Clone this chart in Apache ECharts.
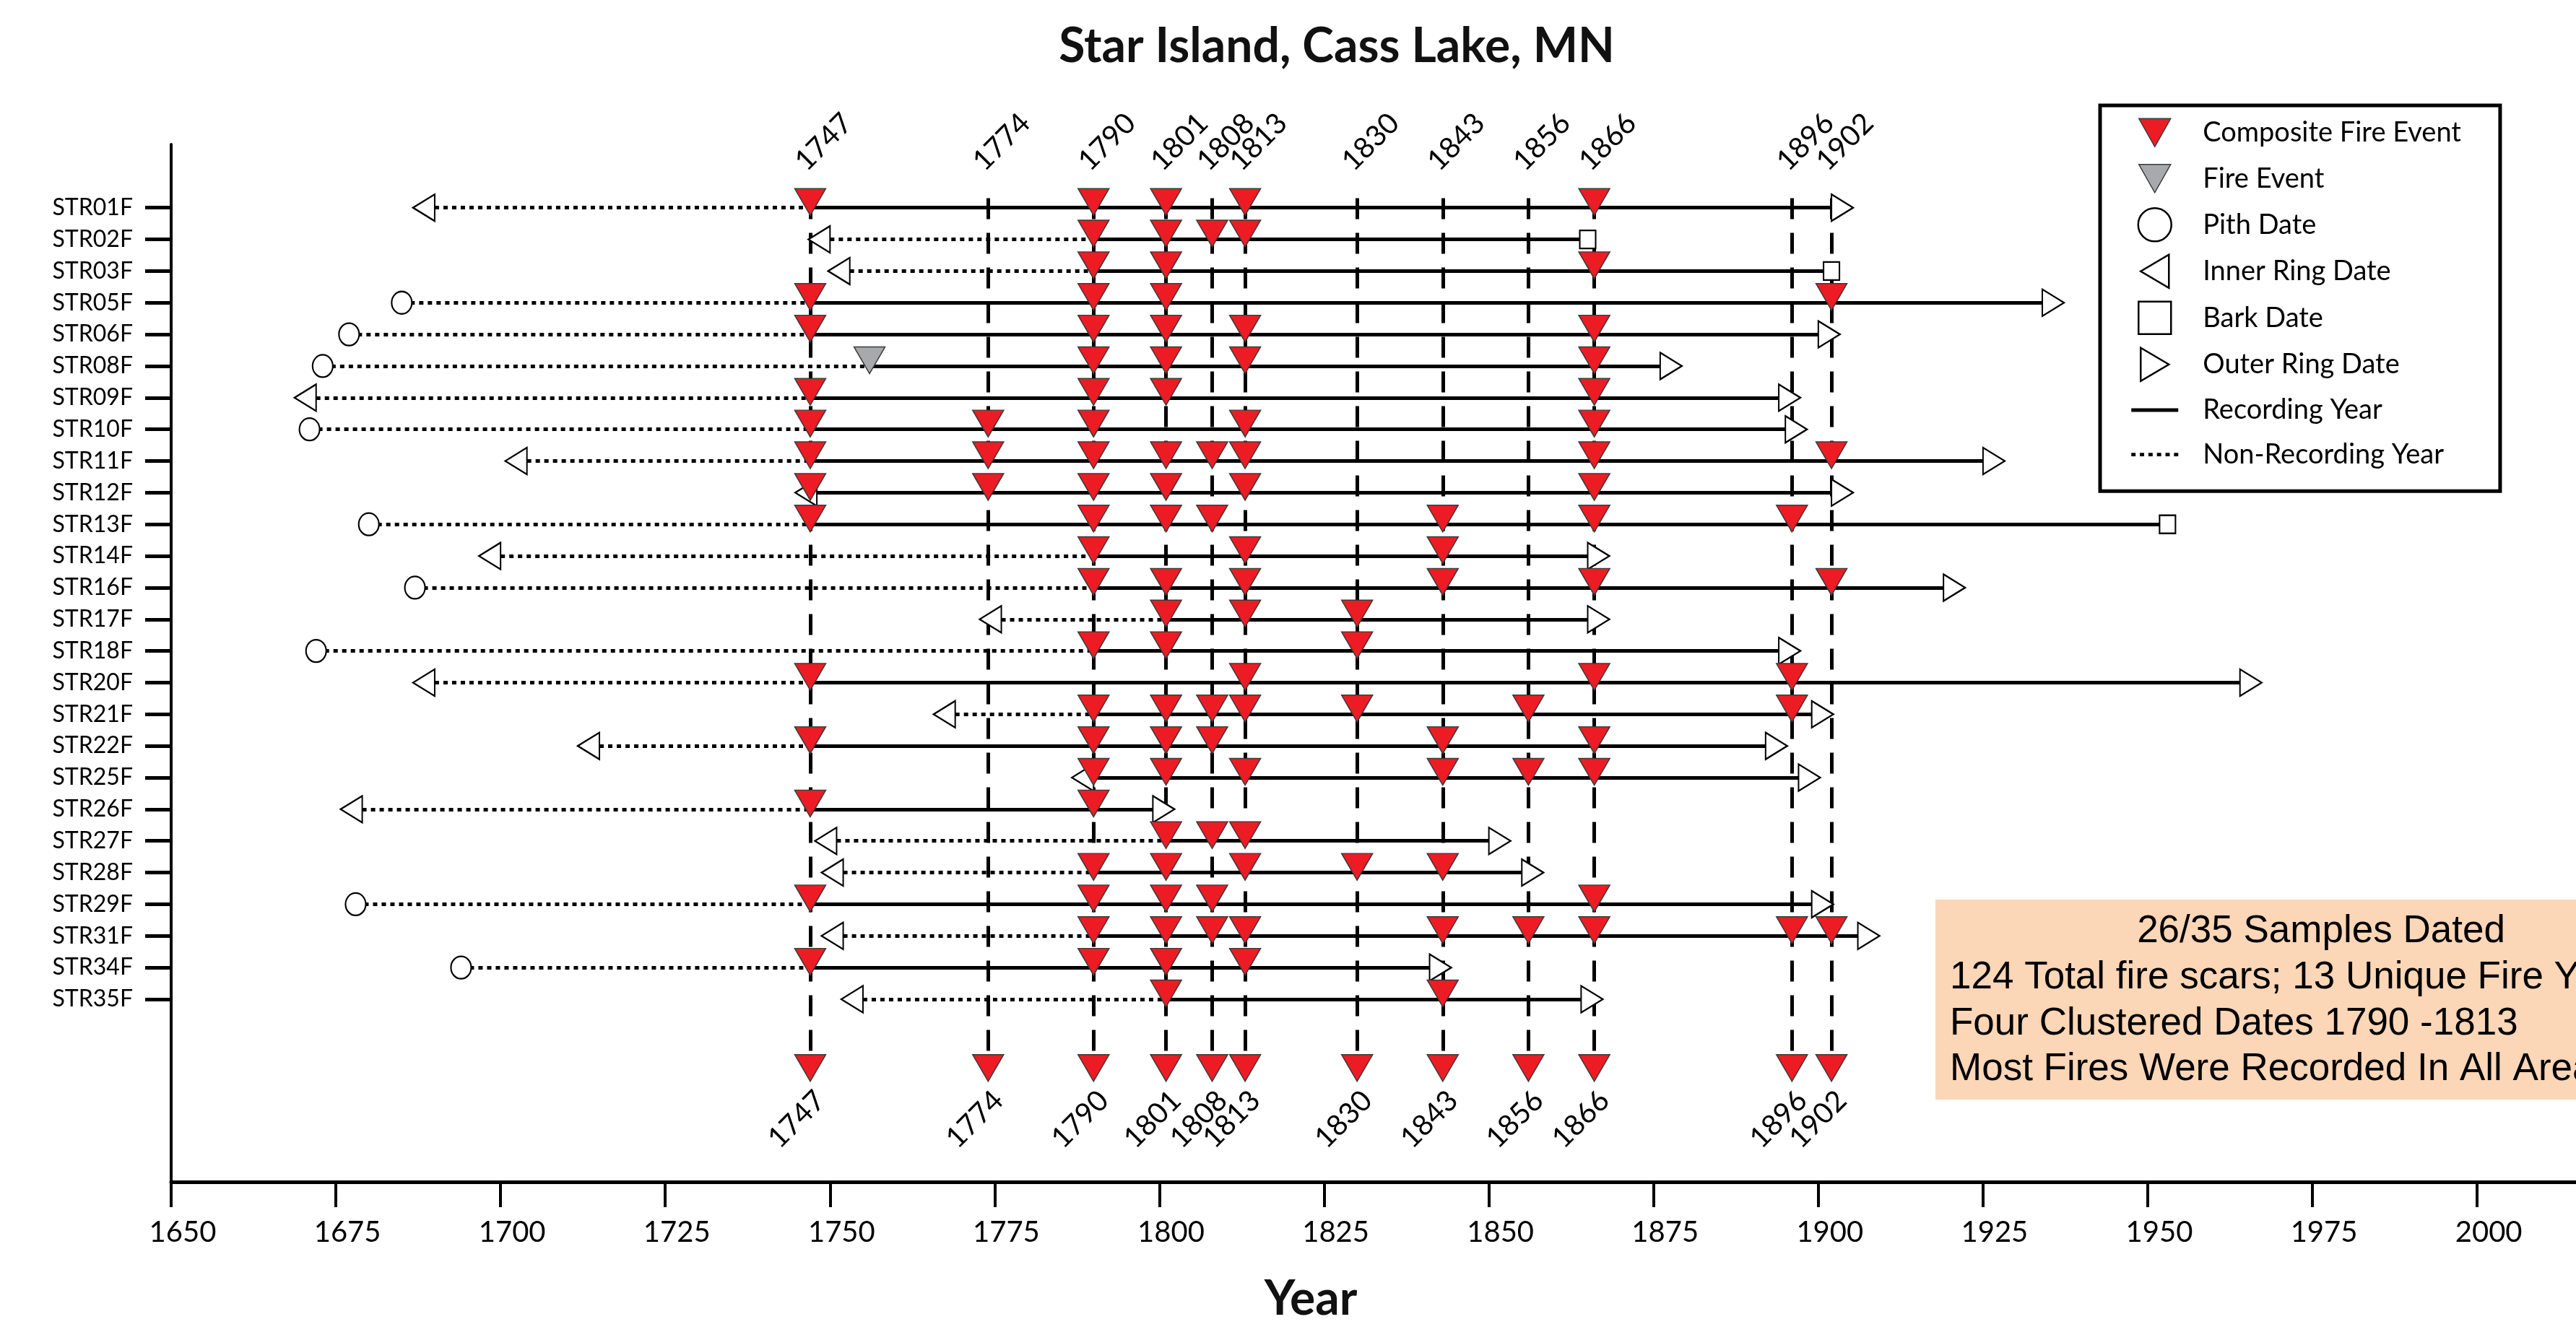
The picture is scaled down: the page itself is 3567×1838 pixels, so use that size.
<!DOCTYPE html>
<html><head><meta charset="utf-8">
<script src="https://cdn.jsdelivr.net/npm/echarts@6/dist/echarts.min.js"></script>
<style>html,body{margin:0;padding:0;background:#fff}#chart{width:3567px;height:1838px}</style>
</head><body><div id="chart"></div>
<script>
// ---------------- data ----------------
const samples = ['STR01F','STR02F','STR03F','STR05F','STR06F','STR08F','STR09F','STR10F','STR11F','STR12F','STR13F','STR14F','STR16F','STR17F','STR18F','STR20F','STR21F','STR22F','STR25F','STR26F','STR27F','STR28F','STR29F','STR31F','STR34F','STR35F'];
const firstYear = [1690,1750,1753,1685,1677,1673,1672,1671,1704,1748,1680,1700,1687,1776,1672,1690,1769,1715,1790,1679,1751,1752,1678,1752,1694,1755];
const firstType = ['inner','inner','inner','pith','pith','pith','inner','pith','inner','inner','pith','inner','pith','inner','pith','inner','inner','inner','inner','inner','inner','inner','pith','inner','pith','inner'];
const recordStart = [1747,1790,1790,1747,1747,1756,1747,1747,1747,1748,1747,1790,1790,1801,1790,1747,1790,1747,1790,1747,1801,1790,1747,1790,1747,1801];
const lastYear = [1902,1865,1902,1934,1900,1876,1894,1895,1925,1902,1953,1865,1919,1865,1894,1964,1899,1892,1897,1799,1850,1855,1899,1906,1841,1864];
const lastType = ['outer','bark','bark','outer','outer','outer','outer','outer','outer','outer','bark','outer','outer','outer','outer','outer','outer','outer','outer','outer','outer','outer','outer','outer','outer','outer'];
const compositeFires = [
  [1747,1790,1801,1813,1866],
  [1790,1801,1808,1813],
  [1790,1801,1866],
  [1747,1790,1801,1902],
  [1747,1790,1801,1813,1866],
  [1790,1801,1813,1866],
  [1747,1790,1801,1866],
  [1747,1774,1790,1813,1866],
  [1747,1774,1790,1801,1808,1813,1866,1902],
  [1747,1774,1790,1801,1813,1866],
  [1747,1790,1801,1808,1843,1866,1896],
  [1790,1813,1843],
  [1790,1801,1813,1843,1866,1902],
  [1801,1813,1830],
  [1790,1801,1830],
  [1747,1813,1866,1896],
  [1790,1801,1808,1813,1830,1856,1896],
  [1747,1790,1801,1808,1843,1866],
  [1790,1801,1813,1843,1856,1866],
  [1747,1790],
  [1801,1808,1813],
  [1790,1801,1813,1830,1843],
  [1747,1790,1801,1808,1866],
  [1790,1801,1808,1813,1843,1856,1866,1896,1902],
  [1747,1790,1801,1813],
  [1801,1843]
];
const otherFires = [[],[],[],[],[],[1756],[],[],[],[],[],[],[],[],[],[],[],[],[],[],[],[],[],[],[],[]];
const compositeYears = [1747,1774,1790,1801,1808,1813,1830,1843,1856,1866,1896,1902];
const xTicks = [1650,1675,1700,1725,1750,1775,1800,1825,1850,1875,1900,1925,1950,1975,2000];
const infoLines = ['26/35 Samples Dated','124 Total fire scars; 13 Unique Fire Years','Four Clustered Dates 1790 -1813','Most Fires Were Recorded In All Areas'];

// ---------------- layout constants (row positions on the y scale) ----------------
const TOP_LABEL_Y = -1.0;
const DASH_TOP_Y = -0.3;
const COMPOSITE_Y = 27.355;
const BOTTOM_LABEL_Y = 27.73;
const rowIdx = samples.map((s, i) => i);

// ---------------- series data ----------------
const recLines = samples.map((s, i) => ({ coords: [[recordStart[i], i], [lastYear[i], i]] }));
const nonRecLines = [];
samples.forEach((s, i) => { if (firstYear[i] < recordStart[i]) nonRecLines.push({ coords: [[firstYear[i], i], [recordStart[i], i]] }); });
const compLines = compositeYears.map(y => ({ coords: [[y, DASH_TOP_Y], [y, COMPOSITE_Y]] }));
const fireData = [];
compositeFires.forEach((arr, i) => arr.forEach(y => fireData.push([y, i])));
compositeYears.forEach(y => fireData.push([y, COMPOSITE_Y]));
const otherData = [];
otherFires.forEach((arr, i) => arr.forEach(y => otherData.push([y, i])));
const pithData = [], innerData = [], barkData = [], outerData = [];
samples.forEach((s, i) => {
  (firstType[i] === 'pith' ? pithData : innerData).push([firstYear[i], i]);
  (lastType[i] === 'bark' ? barkData : outerData).push([lastYear[i], i]);
});

const FONT = 'Lato';
const downTri = 'path://M0,0L43,0L21.5,37Z';
const leftTri = 'path://M0,18.5L30,0L30,37Z';
const rightTri = 'path://M0,0L30,18.5L0,37Z';
const ellipse = 'path://M0,15.5A14,15.5 0 1,0 28,15.5A14,15.5 0 1,0 0,15.5Z';

// legend icons (bounding box forced to 65x46 so they are not rescaled)
const B = 'M0,0M65,46';
const lgTri = 'path://' + B + 'M10.5,3.5L54.5,3.5L32.5,42.5Z';
const lgCircle = 'path://' + B + 'M9.5,23A23,23 0 1,0 55.5,23A23,23 0 1,0 9.5,23Z';
const lgLeft = 'path://' + B + 'M13,23L52,0L52,46Z';
const lgSquare = 'path://' + B + 'M10,0.5L55,0.5L55,45.5L10,45.5Z';
const lgRight = 'path://' + B + 'M13,0L52,23L13,46Z';
const lgLine = 'path://' + B + 'M0,20.5L65,20.5L65,25.5L0,25.5Z';
let dots = '';
for (let x = 0; x < 65; x += 12) dots += 'M' + x + ',20.5h6v5h-6Z';
const lgDots = 'path://' + B + dots;

const hollow = { color: '#fff', borderColor: '#000', borderWidth: 2.2, opacity: 1 };
const redStyle = { color: '#ED1C24', borderColor: '#3a3a3a', borderWidth: 1.5, opacity: 1 };
const grayStyle = { color: '#A7A9AC', borderColor: '#3a3a3a', borderWidth: 1.5, opacity: 1 };

function yearLabel(alignH, alignV) {
  return function (params, api) {
    const p = api.coord([api.value(0), api.value(1)]);
    return {
      type: 'text', x: p[0], y: p[1], rotation: Math.PI / 4,
      style: { text: String(api.value(0)), fontFamily: FONT, fontSize: 40, fill: '#000', align: alignH, verticalAlign: alignV }
    };
  };
}

const chart = echarts.init(document.getElementById('chart'), null, { renderer: 'canvas' });
chart.setOption({
  animation: false,
  backgroundColor: '#fff',
  textStyle: { fontFamily: FONT },
  title: {
    text: 'Star Island, Cass Lake, MN',
    left: 1846, top: 27, textAlign: 'center',
    textStyle: { fontFamily: FONT, fontSize: 66, fontWeight: 'bold', color: '#111' }
  },
  legend: {
    orient: 'vertical', left: 2908, top: 146, selectedMode: false,
    padding: [14, 54, 28, 42],
    borderColor: '#000', borderWidth: 5, backgroundColor: '#fff',
    itemWidth: 65, itemHeight: 46, itemGap: 16,
    textStyle: { fontFamily: FONT, fontSize: 38, color: '#000', padding: [0, 0, 0, 29] },
    data: [
      { name: 'Composite Fire Event', icon: lgTri, itemStyle: { color: '#ED1C24', borderColor: '#3a3a3a', borderWidth: 1.5 } },
      { name: 'Fire Event', icon: lgTri, itemStyle: { color: '#A7A9AC', borderColor: '#3a3a3a', borderWidth: 1.5 } },
      { name: 'Pith Date', icon: lgCircle, itemStyle: { color: '#fff', borderColor: '#000', borderWidth: 2.5 } },
      { name: 'Inner Ring Date', icon: lgLeft, itemStyle: { color: '#fff', borderColor: '#000', borderWidth: 2.5 } },
      { name: 'Bark Date', icon: lgSquare, itemStyle: { color: '#fff', borderColor: '#000', borderWidth: 2.5 } },
      { name: 'Outer Ring Date', icon: lgRight, itemStyle: { color: '#fff', borderColor: '#000', borderWidth: 2.5 } },
      { name: 'Recording Year', icon: lgLine, itemStyle: { color: '#000', borderColor: '#000', borderWidth: 0 } },
      { name: 'Non-Recording Year', icon: lgDots, itemStyle: { color: '#000', borderColor: '#000', borderWidth: 0 } }
    ]
  },
  grid: { left: 237, right: 0, top: 200, bottom: 192, containLabel: false },
  xAxis: {
    type: 'value', min: 1650, max: 2015,
    name: 'Year', nameLocation: 'middle', nameGap: 130,
    nameTextStyle: { fontFamily: FONT, fontSize: 66, fontWeight: 'bold', color: '#111', padding: [0, 174, 0, 0] },
    axisLine: { show: true, onZero: false, lineStyle: { color: '#000', width: 5 } },
    axisTick: { show: true, customValues: xTicks, length: 35, lineStyle: { color: '#000', width: 4 } },
    axisLabel: { customValues: xTicks, fontFamily: FONT, fontSize: 40, color: '#000', margin: 50, padding: [0, 0, 0, 32],
      formatter: v => String(v) },
    splitLine: { show: false }
  },
  yAxis: {
    type: 'value', inverse: true, min: -2, max: 30.77,
    axisLine: { show: true, onZero: false, lineStyle: { color: '#000', width: 4 } },
    axisTick: { show: true, customValues: rowIdx, length: 36, lineStyle: { color: '#000', width: 5 } },
    axisLabel: { customValues: rowIdx, fontFamily: FONT, fontSize: 32, color: '#000', margin: 53,
      formatter: v => samples[Math.round(v)] || '' },
    splitLine: { show: false }
  },
  series: [
    { name: 'Composite Years', type: 'lines', coordinateSystem: 'cartesian2d', silent: true, z: 1,
      lineStyle: { color: '#000', width: 5, type: [29, 19], opacity: 1 }, data: compLines },
    { name: 'Non-Recording Year', type: 'lines', coordinateSystem: 'cartesian2d', silent: true, z: 2,
      lineStyle: { color: '#000', width: 5, type: [6, 6], opacity: 1 }, data: nonRecLines },
    { name: 'Recording Year', type: 'lines', coordinateSystem: 'cartesian2d', silent: true, z: 2,
      lineStyle: { color: '#000', width: 5, type: 'solid', opacity: 1 }, data: recLines },
    { name: 'Pith Date', type: 'scatter', silent: true, z: 4, symbol: ellipse, symbolSize: [28, 31],
      itemStyle: hollow, data: pithData },
    { name: 'Inner Ring Date', type: 'scatter', silent: true, z: 4, symbol: leftTri, symbolSize: [30, 37],
      symbolOffset: [-15, 0], itemStyle: hollow, data: innerData },
    { name: 'Bark Date', type: 'scatter', silent: true, z: 4, symbol: 'rect', symbolSize: [22, 25],
      itemStyle: hollow, data: barkData },
    { name: 'Outer Ring Date', type: 'scatter', silent: true, z: 4, symbol: rightTri, symbolSize: [30, 37],
      symbolOffset: [15, 0], itemStyle: hollow, data: outerData },
    { name: 'Fire Event', type: 'scatter', silent: true, z: 5, symbol: downTri, symbolSize: [43, 37],
      symbolOffset: [0, -8], itemStyle: grayStyle, data: otherData },
    { name: 'Composite Fire Event', type: 'scatter', silent: true, z: 5, symbol: downTri, symbolSize: [43, 37],
      symbolOffset: [0, -8], itemStyle: redStyle, data: fireData },
    { name: 'Top Labels', type: 'custom', silent: true, z: 6, clip: false,
      renderItem: yearLabel('left', 'bottom'), data: compositeYears.map(y => [y, TOP_LABEL_Y]) },
    { name: 'Bottom Labels', type: 'custom', silent: true, z: 6, clip: false,
      renderItem: yearLabel('right', 'top'), data: compositeYears.map(y => [y, BOTTOM_LABEL_Y]) }
  ],
  graphic: [
    { type: 'rect', z: 10, shape: { x: 2680, y: 1246, width: 900, height: 277 }, style: { fill: '#FBD6B7' } },
    { type: 'text', z: 11, x: 3214, y: 1290, style: { text: infoLines[0], font: '53px "Liberation Sans"', fill: '#000', align: 'center', verticalAlign: 'middle' } },
    { type: 'text', z: 11, x: 2700, y: 1354, style: { text: infoLines[1], font: '53px "Liberation Sans"', fill: '#000', align: 'left', verticalAlign: 'middle' } },
    { type: 'text', z: 11, x: 2700, y: 1418, style: { text: infoLines[2], font: '53px "Liberation Sans"', fill: '#000', align: 'left', verticalAlign: 'middle' } },
    { type: 'text', z: 11, x: 2700, y: 1481, style: { text: infoLines[3], font: '53px "Liberation Sans"', fill: '#000', align: 'left', verticalAlign: 'middle' } }
  ]
});
</script></body></html>
